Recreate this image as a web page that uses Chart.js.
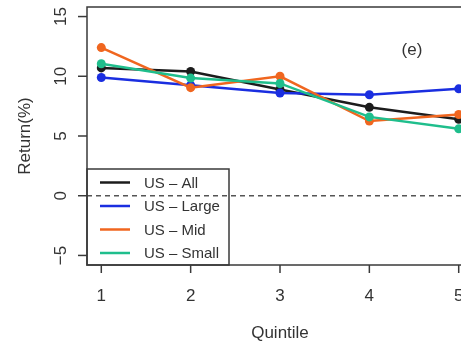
<!DOCTYPE html>
<html>
<head>
<meta charset="utf-8">
<script src="https://cdn.jsdelivr.net/npm/chart.js@4/dist/chart.umd.min.js"></script>
<style>
  html, body { margin: 0; padding: 0; background: #fff; overflow: hidden; }
  #wrap { width: 490px; height: 345px; }
</style>
</head>
<body>
<div id="wrap"><canvas id="chart" width="490" height="345"></canvas></div>
<script>
// --- data ---
const quintiles = [1, 2, 3, 4, 5];
const usAll   = [10.7, 10.4, 8.9, 7.4, 6.4];
const usLarge = [9.9, 9.25, 8.6, 8.45, 8.95];
const usMid   = [12.4, 9.05, 10.0, 6.25, 6.8];
const usSmall = [11.05, 9.85, 9.4, 6.6, 5.6];
const yTicks = [-5, 0, 5, 10, 15];

const seriesNames  = ['US \u2013 All', 'US \u2013 Large', 'US \u2013 Mid', 'US \u2013 Small'];
const seriesValues = [usAll, usLarge, usMid, usSmall];
const seriesColors = ['#1c1c1c', '#1a2ee0', '#f0661f', '#1fbe8c'];

const FONT = '"Liberation Sans", Arial, sans-serif';
const INK = '#333';

function makeDataset(i) {
    return {
        label: seriesNames[i],
        data: quintiles.map((q, k) => ({ x: q, y: seriesValues[i][k] })),
        borderColor: seriesColors[i],
        backgroundColor: seriesColors[i],
        borderWidth: 2.5,
        pointRadius: 4.5,
        pointBorderWidth: 0,
        tension: 0,
        order: 4 - i
    };
}

// R-style frame, axes, zero line and legend
const rFrame = {
    id: 'rFrame',
    beforeDatasetsDraw(chart) {
        const { ctx, chartArea: a, scales: { y } } = chart;
        const y0 = y.getPixelForValue(0);
        ctx.save();
        ctx.strokeStyle = '#555';
        ctx.lineWidth = 1.5;
        ctx.setLineDash([5, 4]);
        ctx.beginPath();
        ctx.moveTo(a.left, y0);
        ctx.lineTo(a.right, y0);
        ctx.stroke();
        ctx.restore();
    },
    afterDraw(chart) {
        const { ctx, chartArea: a, scales: { x, y } } = chart;
        ctx.save();
        ctx.strokeStyle = '#3a3a3a';
        ctx.lineWidth = 1.5;
        ctx.strokeRect(a.left, a.top, a.right - a.left, a.bottom - a.top);

        ctx.fillStyle = INK;
        ctx.font = '17px ' + FONT;
        ctx.textAlign = 'center';
        ctx.textBaseline = 'middle';

        // x ticks
        quintiles.forEach(q => {
            const px = x.getPixelForValue(q);
            ctx.beginPath();
            ctx.moveTo(px, a.bottom);
            ctx.lineTo(px, a.bottom + 8);
            ctx.stroke();
            ctx.fillText(String(q), px, 296);
        });

        // y ticks, labels parallel to the axis
        yTicks.forEach(t => {
            const py = y.getPixelForValue(t);
            ctx.beginPath();
            ctx.moveTo(a.left - 9, py);
            ctx.lineTo(a.left, py);
            ctx.stroke();
            ctx.save();
            ctx.translate(61, py);
            ctx.rotate(-Math.PI / 2);
            ctx.fillText(t < 0 ? '\u2212' + Math.abs(t) : String(t), 0, 0);
            ctx.restore();
        });

        // axis titles
        ctx.fillText('Quintile', (a.left + a.right) / 2, 333);
        ctx.save();
        ctx.translate(25, (a.top + a.bottom) / 2);
        ctx.rotate(-Math.PI / 2);
        ctx.fillText('Return(%)', 0, 0);
        ctx.restore();

        // panel tag
        ctx.fillText('(e)', 412, 50);

        // legend
        ctx.strokeStyle = '#3a3a3a';
        ctx.strokeRect(a.left, 169, 229 - a.left, a.bottom - 169);
        ctx.font = '15px ' + FONT;
        ctx.textAlign = 'left';
        seriesNames.forEach((name, i) => {
            const ly = 182.5 + i * 23.5;
            ctx.strokeStyle = seriesColors[i];
            ctx.lineWidth = 2.5;
            ctx.beginPath();
            ctx.moveTo(100, ly);
            ctx.lineTo(130, ly);
            ctx.stroke();
            ctx.fillStyle = INK;
            ctx.fillText(name, 144, ly + 1);
        });
        ctx.restore();
    }
};

new Chart(document.getElementById('chart'), {
    type: 'line',
    data: { datasets: seriesValues.map((_, i) => makeDataset(i)) },
    options: {
        responsive: false,
        animation: false,
        layout: { padding: { left: 87, top: 7, right: 17, bottom: 80 } },
        plugins: { legend: { display: false }, tooltip: { enabled: false } },
        scales: {
            x: { type: 'linear', min: 0.84, max: 5.16, display: false },
            y: { type: 'linear', min: -5.8, max: 15.8, display: false }
        }
    },
    plugins: [rFrame]
});
</script>
</body>
</html>
